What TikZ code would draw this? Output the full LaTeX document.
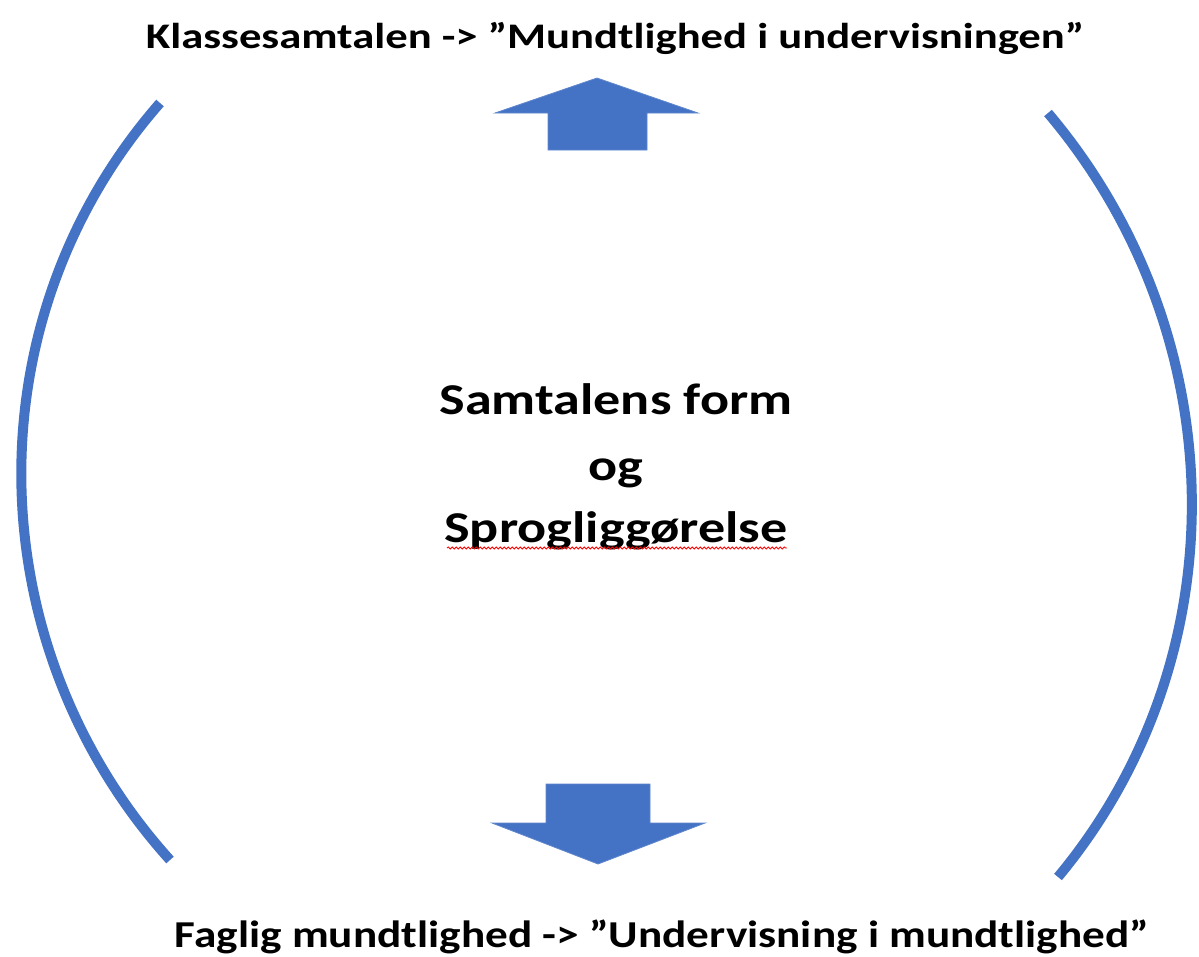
\documentclass[tikz,border=0pt]{standalone}
\usepackage{fontspec}
\usepackage{graphicx}
\setmainfont{Carlito}
\usetikzlibrary{decorations.pathmorphing}
\definecolor{officeblue}{HTML}{4472C4}
\tikzset{
  bracket/.style={draw=officeblue, line width=10pt},
  blockarrow/.style={fill=officeblue, draw=officeblue!85!white, line width=0.8pt},
  title/.style={font=\bfseries\fontsize{36}{42}\selectfont, anchor=base, inner sep=0pt},
  bottomtitle/.style={font=\bfseries\fontsize{38}{44}\selectfont, anchor=base, inner sep=0pt},
  center/.style={font=\bfseries\fontsize{44}{50}\selectfont, anchor=base, inner sep=0pt},
  spell/.style={draw=red, line width=0.8pt, decorate, decoration={snake, segment length=4pt, amplitude=1.1pt}}
}
\begin{document}
\begin{tikzpicture}[x=1pt, y=-1pt]
\useasboundingbox (0,0) rectangle (1199,956);
\fill[white] (0,0) rectangle (1199,956);

% texts
\node[title] (top) at (615,48) {\scalebox{1.24}[1]{Klassesamtalen -> ”Mundtlighed i undervisningen”}};
\node[bottomtitle] (bottom) at (662,947) {\scalebox{1.19}[1]{Faglig mundtlighed -> ”Undervisning i mundtlighed”}};
\node[center] (l1) at (616,414) {\scalebox{1.23}[1]{Samtalens form}};
\node[center] (l2) at (616,480) {\scalebox{1.23}[1]{og}};
\node[center] (l3) at (616,542) {\scalebox{1.23}[1]{Sprogliggørelse}};
\coordinate (u1) at (447,548);
\coordinate (u2) at (787,548);
\draw[spell] (u1) -- (u2);

% brackets
\coordinate (lt) at (160,103);
\coordinate (lb) at (170,860);
\draw[bracket] (lt) .. controls (-30,320) and (-23,646) .. (lb);
\coordinate (rt) at (1048,113);
\coordinate (rb) at (1058,877);
\draw[bracket] (rt) .. controls (1234,333) and (1242,656) .. (rb);

% up arrow
\draw[blockarrow] (597,78) -- (698,113) -- (647,113) -- (647,150) -- (548,150) -- (548,113) -- (495,113) -- cycle;
% down arrow
\draw[blockarrow] (546,784) -- (650,784) -- (650,823) -- (705,823) -- (598,864) -- (492,823) -- (546,823) -- cycle;
\end{tikzpicture}
\end{document}
